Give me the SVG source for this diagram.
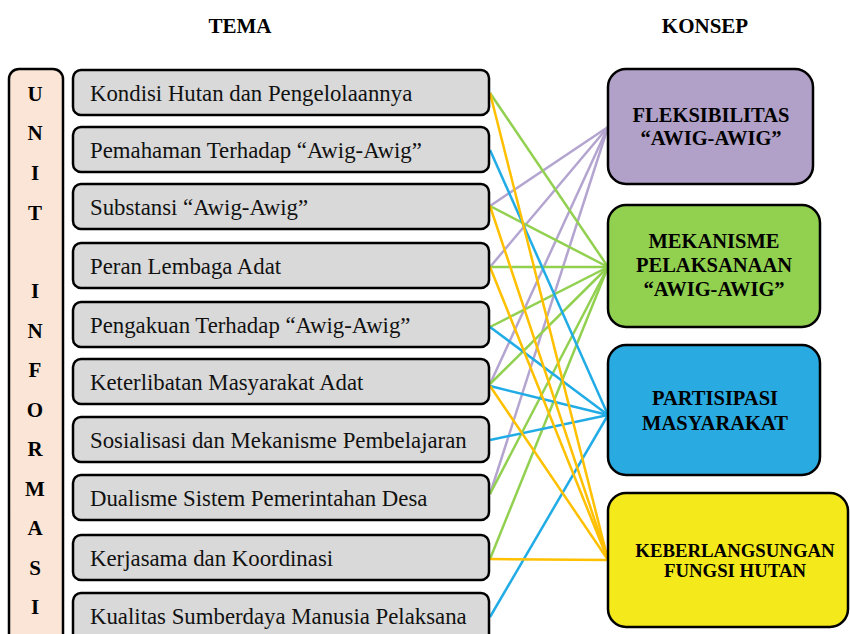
<svg xmlns="http://www.w3.org/2000/svg" width="850" height="634" viewBox="0 0 850 634">
<style>
.title{font-family:"Liberation Serif","Times New Roman",serif;font-weight:bold;font-size:21px;fill:#000}
.unit{font-family:"Liberation Serif","Times New Roman",serif;font-weight:bold;font-size:21px;fill:#000;text-anchor:middle}
.tema rect{fill:#D9D9D9;stroke:#000;stroke-width:2.5}
.tema text{font-family:"Liberation Serif","Times New Roman",serif;font-size:22.8px;fill:#111}
.konsep rect{stroke:#000;stroke-width:2.5}
.konsep text{font-family:"Liberation Serif","Times New Roman",serif;font-weight:bold;font-size:20.5px;fill:#000;text-anchor:middle}
.c line{stroke-width:2.5;fill:none}
.pu{stroke:#B4A5D0}
.gr{stroke:#92D050}
.bl{stroke:#22ACE6}
.ye{stroke:#FFC000}
</style>
<rect width="850" height="634" fill="#fff"/>
<text class="title" x="240" y="33" text-anchor="middle">TEMA</text>
<text class="title" x="705" y="33" text-anchor="middle">KONSEP</text>

<g id="connectors" class="c">
<line class="pu" x1="490" y1="206" x2="608" y2="127"/>
<line class="pu" x1="490" y1="267" x2="608" y2="127"/>
<line class="pu" x1="490" y1="384" x2="608" y2="127"/>
<line class="pu" x1="490" y1="494" x2="608" y2="127"/>
<line class="gr" x1="490" y1="93" x2="608" y2="267"/>
<line class="gr" x1="490" y1="206" x2="608" y2="267"/>
<line class="gr" x1="490" y1="267" x2="608" y2="267"/>
<line class="gr" x1="490" y1="327" x2="608" y2="267"/>
<line class="gr" x1="490" y1="384" x2="608" y2="267"/>
<line class="gr" x1="490" y1="494" x2="608" y2="267"/>
<line class="gr" x1="490" y1="559" x2="608" y2="267"/>
<line class="bl" x1="490" y1="150" x2="608" y2="415"/>
<line class="bl" x1="490" y1="327" x2="608" y2="415"/>
<line class="bl" x1="490" y1="386" x2="608" y2="415"/>
<line class="bl" x1="490" y1="440" x2="608" y2="415"/>
<line class="bl" x1="490" y1="617" x2="608" y2="415"/>
<line class="ye" x1="490" y1="93" x2="608" y2="560"/>
<line class="ye" x1="490" y1="206" x2="608" y2="560"/>
<line class="ye" x1="490" y1="267" x2="608" y2="560"/>
<line class="ye" x1="490" y1="386" x2="608" y2="560"/>
<line class="ye" x1="490" y1="559" x2="608" y2="560"/>
</g>

<g id="unit-informasi">
<rect x="9" y="69" width="54" height="590" rx="10" fill="#FBE5D6" stroke="#000" stroke-width="2.5"/>
<text class="unit" x="35" y="101">U</text>
<text class="unit" x="35" y="140">N</text>
<text class="unit" x="35" y="180">I</text>
<text class="unit" x="35" y="220">T</text>
<text class="unit" x="35" y="298">I</text>
<text class="unit" x="35" y="338">N</text>
<text class="unit" x="35" y="377">F</text>
<text class="unit" x="35" y="417">O</text>
<text class="unit" x="35" y="456">R</text>
<text class="unit" x="35" y="496">M</text>
<text class="unit" x="35" y="535">A</text>
<text class="unit" x="35" y="575">S</text>
<text class="unit" x="35" y="614">I</text>
</g>

<g id="tema1" class="tema"><rect x="73" y="70" width="416" height="45" rx="8"/><text x="90" y="100.5">Kondisi Hutan dan Pengelolaannya</text></g>
<g id="tema2" class="tema"><rect x="73" y="127" width="416" height="45" rx="8"/><text x="90" y="157.5">Pemahaman Terhadap “Awig-Awig”</text></g>
<g id="tema3" class="tema"><rect x="73" y="184" width="416" height="45" rx="8"/><text x="90" y="214.5">Substansi “Awig-Awig”</text></g>
<g id="tema4" class="tema"><rect x="73" y="243" width="416" height="45" rx="8"/><text x="90" y="273.5">Peran Lembaga Adat</text></g>
<g id="tema5" class="tema"><rect x="73" y="302" width="416" height="45" rx="8"/><text x="90" y="332.5">Pengakuan Terhadap “Awig-Awig”</text></g>
<g id="tema6" class="tema"><rect x="73" y="359" width="416" height="45" rx="8"/><text x="90" y="389.5">Keterlibatan Masyarakat Adat</text></g>
<g id="tema7" class="tema"><rect x="73" y="417" width="416" height="45" rx="8"/><text x="90" y="447.5">Sosialisasi dan Mekanisme Pembelajaran</text></g>
<g id="tema8" class="tema"><rect x="73" y="475" width="416" height="45" rx="8"/><text x="90" y="505.5">Dualisme Sistem Pemerintahan Desa</text></g>
<g id="tema9" class="tema"><rect x="73" y="535" width="416" height="45" rx="8"/><text x="90" y="565.5">Kerjasama dan Koordinasi</text></g>
<g id="tema10" class="tema"><rect x="73" y="593" width="416" height="50" rx="8"/><text x="90" y="623.5">Kualitas Sumberdaya Manusia Pelaksana</text></g>

<g id="konsep-fleksibilitas" class="konsep"><rect x="608" y="69" width="205" height="115" rx="18" fill="#B1A0C7"/>
<text x="711" y="122">FLEKSIBILITAS</text><text x="711" y="145">“AWIG-AWIG”</text></g>
<g id="konsep-mekanisme" class="konsep"><rect x="608" y="205" width="212" height="122" rx="18" fill="#92D050"/>
<text x="714" y="248">MEKANISME</text><text x="714" y="272">PELAKSANAAN</text><text x="714" y="296">“AWIG-AWIG”</text></g>
<g id="konsep-partisipasi" class="konsep"><rect x="608" y="345" width="212" height="130" rx="18" fill="#29ABE2"/>
<text x="715" y="405">PARTISIPASI</text><text x="715" y="430">MASYARAKAT</text></g>
<g id="konsep-keberlangsungan" class="konsep"><rect x="608" y="493" width="240" height="134" rx="18" fill="#F4E91B"/>
<text x="735" y="557" style="font-size:18.8px">KEBERLANGSUNGAN</text><text x="735" y="577" style="font-size:18.8px">FUNGSI HUTAN</text></g>
</svg>
